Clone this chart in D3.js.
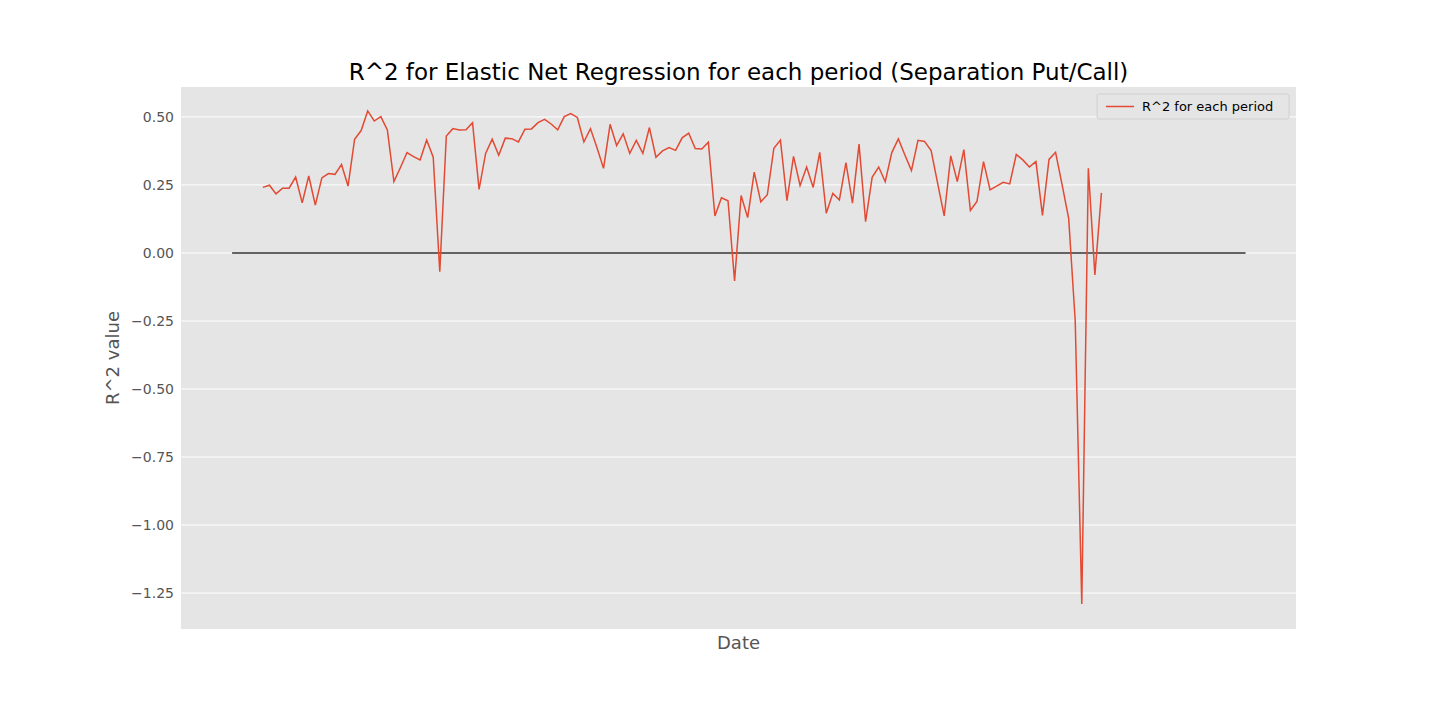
<!DOCTYPE html>
<html>
<head>
<meta charset="utf-8">
<script src="https://cdn.jsdelivr.net/npm/d3@7"></script>
<style>
  body { margin: 0; background: #fff; }
  text { font-family: "DejaVu Sans", sans-serif; }
</style>
</head>
<body>
<div id="chart"></div>
<script>
// R^2 per period (one value per period, in order)
const r2Values = [
  0.241, 0.249, 0.217, 0.238, 0.238, 0.279, 0.184, 0.283, 0.176, 0.276,
  0.292, 0.289, 0.325, 0.246, 0.418, 0.450, 0.522, 0.485, 0.501, 0.452,
  0.262, 0.314, 0.369, 0.354, 0.342, 0.415, 0.352, -0.069, 0.430, 0.457,
  0.452, 0.453, 0.479,
  0.234, 0.366, 0.418, 0.359, 0.422, 0.420, 0.408, 0.455, 0.456, 0.479,
  0.491, 0.474, 0.453, 0.501, 0.512, 0.498, 0.408, 0.457, 0.387, 0.311,
  0.473, 0.395, 0.438, 0.366, 0.414, 0.366, 0.461, 0.352, 0.375, 0.387,
  0.377, 0.423, 0.440, 0.384, 0.382, 0.407, 0.136,
  0.203, 0.192, -0.103, 0.211, 0.130, 0.297, 0.188, 0.214, 0.385, 0.415,
  0.192, 0.355, 0.248, 0.316, 0.241, 0.370, 0.146, 0.219, 0.195, 0.332,
  0.183, 0.400, 0.115, 0.278, 0.316, 0.262, 0.369, 0.419, 0.360, 0.303,
  0.414, 0.410,
  0.376, 0.256, 0.136, 0.357, 0.262, 0.380, 0.156, 0.189, 0.336, 0.232,
  0.246, 0.260, 0.254, 0.362, 0.342, 0.316, 0.336, 0.138, 0.344, 0.370,
  0.250, 0.127, -0.250, -1.290, 0.311, -0.081, 0.221
];
const yTicks = [0.5, 0.25, 0, -0.25, -0.5, -0.75, -1.0, -1.25];
const zeroLineExtent = [-4.7, 150];   // in period index units
const xDomain = [-12.5, 157.7];
const yDomain = [-1.382, 0.61];

const W = 1440, H = 720;
const margin = { top: 87, right: 144, bottom: 91, left: 181 };
const width = W - margin.left - margin.right;
const height = H - margin.top - margin.bottom;

const svg = d3.select("#chart").append("svg")
  .attr("width", W).attr("height", H);

const g = svg.append("g")
  .attr("transform", `translate(${margin.left},${margin.top})`);

const x = d3.scaleLinear().domain(xDomain).range([0, width]);
const y = d3.scaleLinear().domain(yDomain).range([height, 0]);

// Background
g.append("rect").attr("width", width).attr("height", height).attr("fill", "#E5E5E5");

// Grid
g.selectAll(".grid").data(yTicks).enter().append("line")
  .attr("x1", 0).attr("x2", width)
  .attr("y1", d => y(d)).attr("y2", d => y(d))
  .attr("stroke", "#fff").attr("stroke-width", 1);

// Y tick labels
const fmt = d => d3.format(".2f")(d).replace("-", "\u2212");
g.append("g")
  .call(d3.axisLeft(y).tickValues(yTicks).tickFormat(fmt).tickSize(0).tickPadding(7))
  .call(a => a.select(".domain").remove())
  .selectAll("text")
  .style("font-size", "14px")
  .style("font-family", "DejaVu Sans, sans-serif")
  .attr("fill", "#555");

// Zero line
g.append("line")
  .attr("x1", x(zeroLineExtent[0])).attr("x2", x(zeroLineExtent[1]))
  .attr("y1", y(0)).attr("y2", y(0))
  .attr("stroke", "#333").attr("stroke-width", 1.6);

// Series line
const line = d3.line().x((d, i) => x(i)).y(d => y(d));
g.append("path").datum(r2Values)
  .attr("fill", "none").attr("stroke", "#E24A33").attr("stroke-width", 1.5)
  .attr("d", line);

// Title and axis labels
svg.append("text").attr("x", margin.left + width / 2).attr("y", 80)
  .attr("text-anchor", "middle").style("font-size", "23px").attr("fill", "#000")
  .text("R^2 for Elastic Net Regression for each period (Separation Put/Call)");

svg.append("text").attr("x", margin.left + width / 2).attr("y", 649)
  .attr("text-anchor", "middle").style("font-size", "18px").attr("fill", "#555")
  .text("Date");

svg.append("text")
  .attr("transform", `translate(119,${margin.top + height / 2}) rotate(-90)`)
  .attr("text-anchor", "middle").style("font-size", "18px").attr("fill", "#555")
  .text("R^2 value");

// Legend
const lg = g.append("g").attr("transform", `translate(${width - 199},7)`);
lg.append("rect").attr("width", 192).attr("height", 25).attr("rx", 2)
  .attr("fill", "#E5E5E5").attr("stroke", "#ccc").attr("stroke-width", 0.8);
lg.append("line").attr("x1", 9).attr("x2", 37).attr("y1", 12.5).attr("y2", 12.5)
  .attr("stroke", "#E24A33").attr("stroke-width", 1.5);
lg.append("text").attr("x", 45).attr("y", 17).style("font-size", "13px").attr("fill", "#000")
  .text("R^2 for each period");
</script>
</body>
</html>
